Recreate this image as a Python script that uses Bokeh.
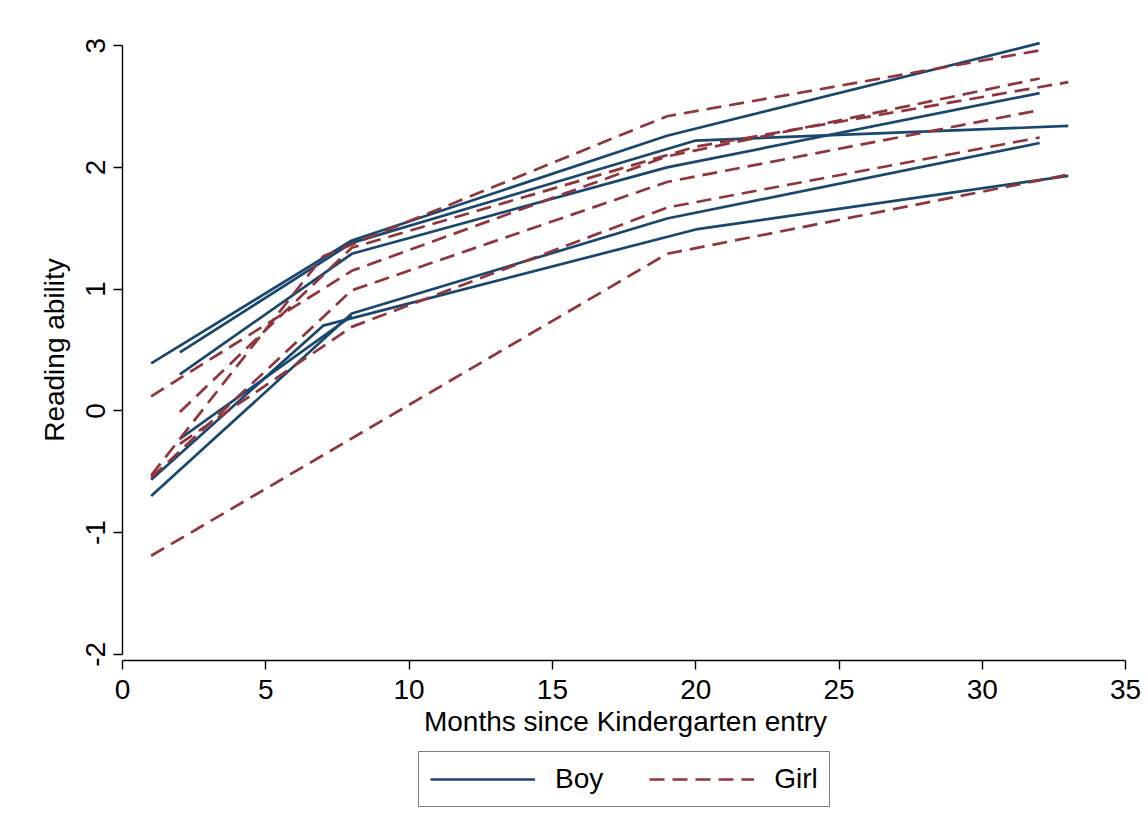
from bokeh.plotting import figure
from bokeh.layouts import column
from bokeh.models import Range1d, Legend, LegendItem, FixedTicker, PrintfTickFormatter
from bokeh.embed import file_html
from bokeh.resources import INLINE

# ---- data ----
boy_months = [[1, 8, 19, 32], [2, 8, 20, 33], [2, 8, 19, 32],
              [1, 7, 20, 33], [1, 8, 19, 32], [2, 8]]
boy_scores = [[0.39, 1.40, 2.26, 3.02], [0.48, 1.38, 2.22, 2.34], [0.30, 1.29, 2.00, 2.61],
              [-0.565, 0.70, 1.49, 1.93], [-0.70, 0.80, 1.58, 2.20], [-0.23, 0.78]]

girl_months = [[1, 7, 19, 32], [1, 8, 19, 32], [2, 8, 20, 33],
               [2, 8, 19, 32], [1, 8, 19, 32], [1, 19, 33]]
girl_scores = [[-0.53, 1.27, 2.42, 2.96], [0.12, 1.15, 2.09, 2.73], [-0.01, 1.34, 2.17, 2.70],
               [-0.27, 0.69, 1.67, 2.245], [-0.55, 0.99, 1.88, 2.47], [-1.19, 1.29, 1.94]]

x_ticks = [0, 5, 10, 15, 20, 25, 30, 35]
y_ticks = [-2, -1, 0, 1, 2, 3]
x_title = "Months since Kindergarten entry"
y_title = "Reading ability"
legend_labels = ["Boy", "Girl"]

BOY = "#1a476f"
GIRL = "#90353b"
FONT = "Liberation Sans"
LW = 2.7
DASH = "15 8"

# ---- main plot ----
p = figure(width=1148, height=750, output_backend="svg", toolbar_location=None,
           x_range=Range1d(0, 35.1), y_range=Range1d(-2.05, 3.05),
           min_border_left=122, min_border_right=20, min_border_top=39, min_border_bottom=90)

p.multi_line(boy_months, boy_scores, line_color=BOY, line_width=LW)
p.multi_line(girl_months, girl_scores, line_color=GIRL, line_width=LW, line_dash=DASH)

p.xgrid.visible = False
p.ygrid.visible = False
p.outline_line_color = None
p.background_fill_color = "white"
p.border_fill_color = "white"

for ax in (p.xaxis[0], p.yaxis[0]):
    ax.axis_line_color = "black"
    ax.axis_line_width = 1.4
    ax.major_tick_line_color = "black"
    ax.major_tick_line_width = 1.4
    ax.major_tick_out = 9
    ax.major_tick_in = 0
    ax.minor_tick_line_color = None
    ax.major_label_text_font = FONT
    ax.major_label_text_font_size = "28px"
    ax.major_label_text_color = "black"
    ax.axis_label_text_font = FONT
    ax.axis_label_text_font_size = "28px"
    ax.axis_label_text_font_style = "normal"
    ax.axis_label_text_color = "black"
    ax.formatter = PrintfTickFormatter(format="%d")

p.xaxis[0].ticker = FixedTicker(ticks=x_ticks)
p.yaxis[0].ticker = FixedTicker(ticks=y_ticks)
p.xaxis[0].bounds = (0, 35)
p.yaxis[0].bounds = (-2, 3)
p.xaxis[0].axis_label = x_title
p.yaxis[0].axis_label = y_title
p.yaxis[0].major_label_orientation = "vertical"
p.xaxis[0].major_label_standoff = 10
p.xaxis[0].axis_label_standoff = 4
p.yaxis[0].major_label_standoff = 8
p.yaxis[0].axis_label_standoff = 14

# ---- legend strip (same series, drawn out of view so only the key shows) ----
q = figure(width=1148, height=65, output_backend="svg", toolbar_location=None,
           x_range=Range1d(100, 101), y_range=Range1d(100, 101),
           min_border_left=0, min_border_right=0, min_border_top=0, min_border_bottom=0)
q.axis.visible = False
q.xgrid.visible = False
q.ygrid.visible = False
q.outline_line_color = None
q.background_fill_color = "white"
q.border_fill_color = "white"
rb = q.multi_line(boy_months, boy_scores, line_color=BOY, line_width=LW)
rg = q.multi_line(girl_months, girl_scores, line_color=GIRL, line_width=LW, line_dash=DASH)

legend = Legend(items=[LegendItem(label=legend_labels[0], renderers=[rb]),
                       LegendItem(label=legend_labels[1], renderers=[rg])],
                orientation="horizontal", location=(296, 8))
legend.label_text_font = FONT
legend.label_text_font_size = "28px"
legend.label_text_color = "black"
legend.glyph_width = 105
legend.glyph_height = 20
legend.label_standoff = 20
legend.spacing = 46
legend.padding = 11
legend.margin = 0
legend.border_line_color = "#000000"
legend.border_line_width = 1.5
legend.background_fill_color = "white"
q.add_layout(legend, "center")

layout = column(p, q, spacing=0)
open("out.html", "w").write(file_html(layout, INLINE))
